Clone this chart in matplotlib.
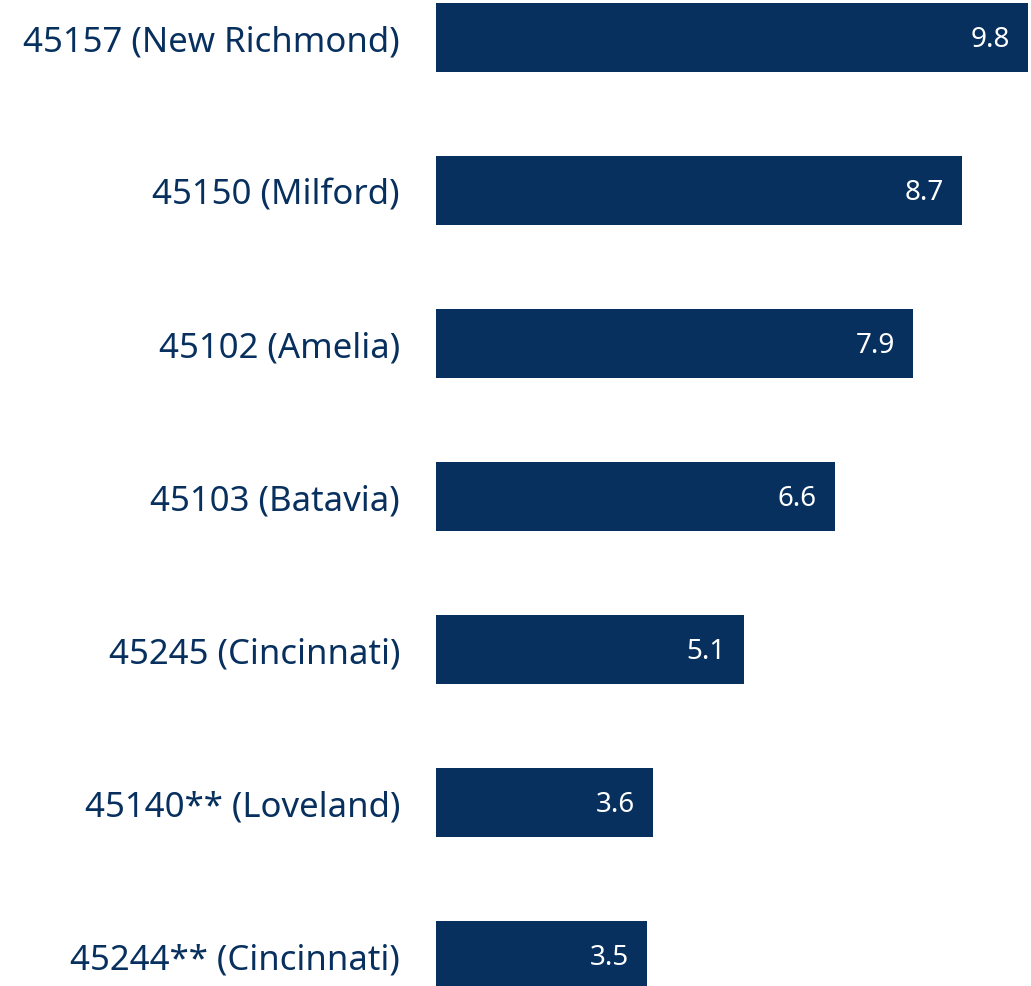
import matplotlib
matplotlib.use("Agg")
import matplotlib.pyplot as plt

categories = ["45157 (New Richmond)", "45150 (Milford)", "45102 (Amelia)",
              "45103 (Batavia)", "45245 (Cincinnati)", "45140** (Loveland)",
              "45244** (Cincinnati)"]
values = [9.8, 8.7, 7.9, 6.6, 5.1, 3.6, 3.5]

navy = "#07305E"
W, H = 1031, 987
fig = plt.figure(figsize=(W / 100, H / 100), dpi=100)
ax = fig.add_axes([436 / W, 0, (1028 - 436) / W, 1])
ypos = list(range(len(categories)))
ax.barh(ypos, values, height=0.45, color=navy)
ax.set_xlim(0, 9.8)
ax.set_ylim((H - 38.5) / 153, -38.5 / 153)
for y, v in zip(ypos, values):
    ax.annotate(f"{v}", (v, y), xytext=(-13, -1), textcoords="offset points",
                ha="right", va="center", color="white", fontsize=20,
                family="Noto Sans")
ax.set_yticks(ypos)
ax.set_yticklabels(categories, fontsize=25, color=navy, family="Noto Sans")
ax.tick_params(axis="y", length=0, pad=26)
ax.set_xticks([])
for s in ax.spines.values():
    s.set_visible(False)
fig.savefig("out.png", dpi=100)
